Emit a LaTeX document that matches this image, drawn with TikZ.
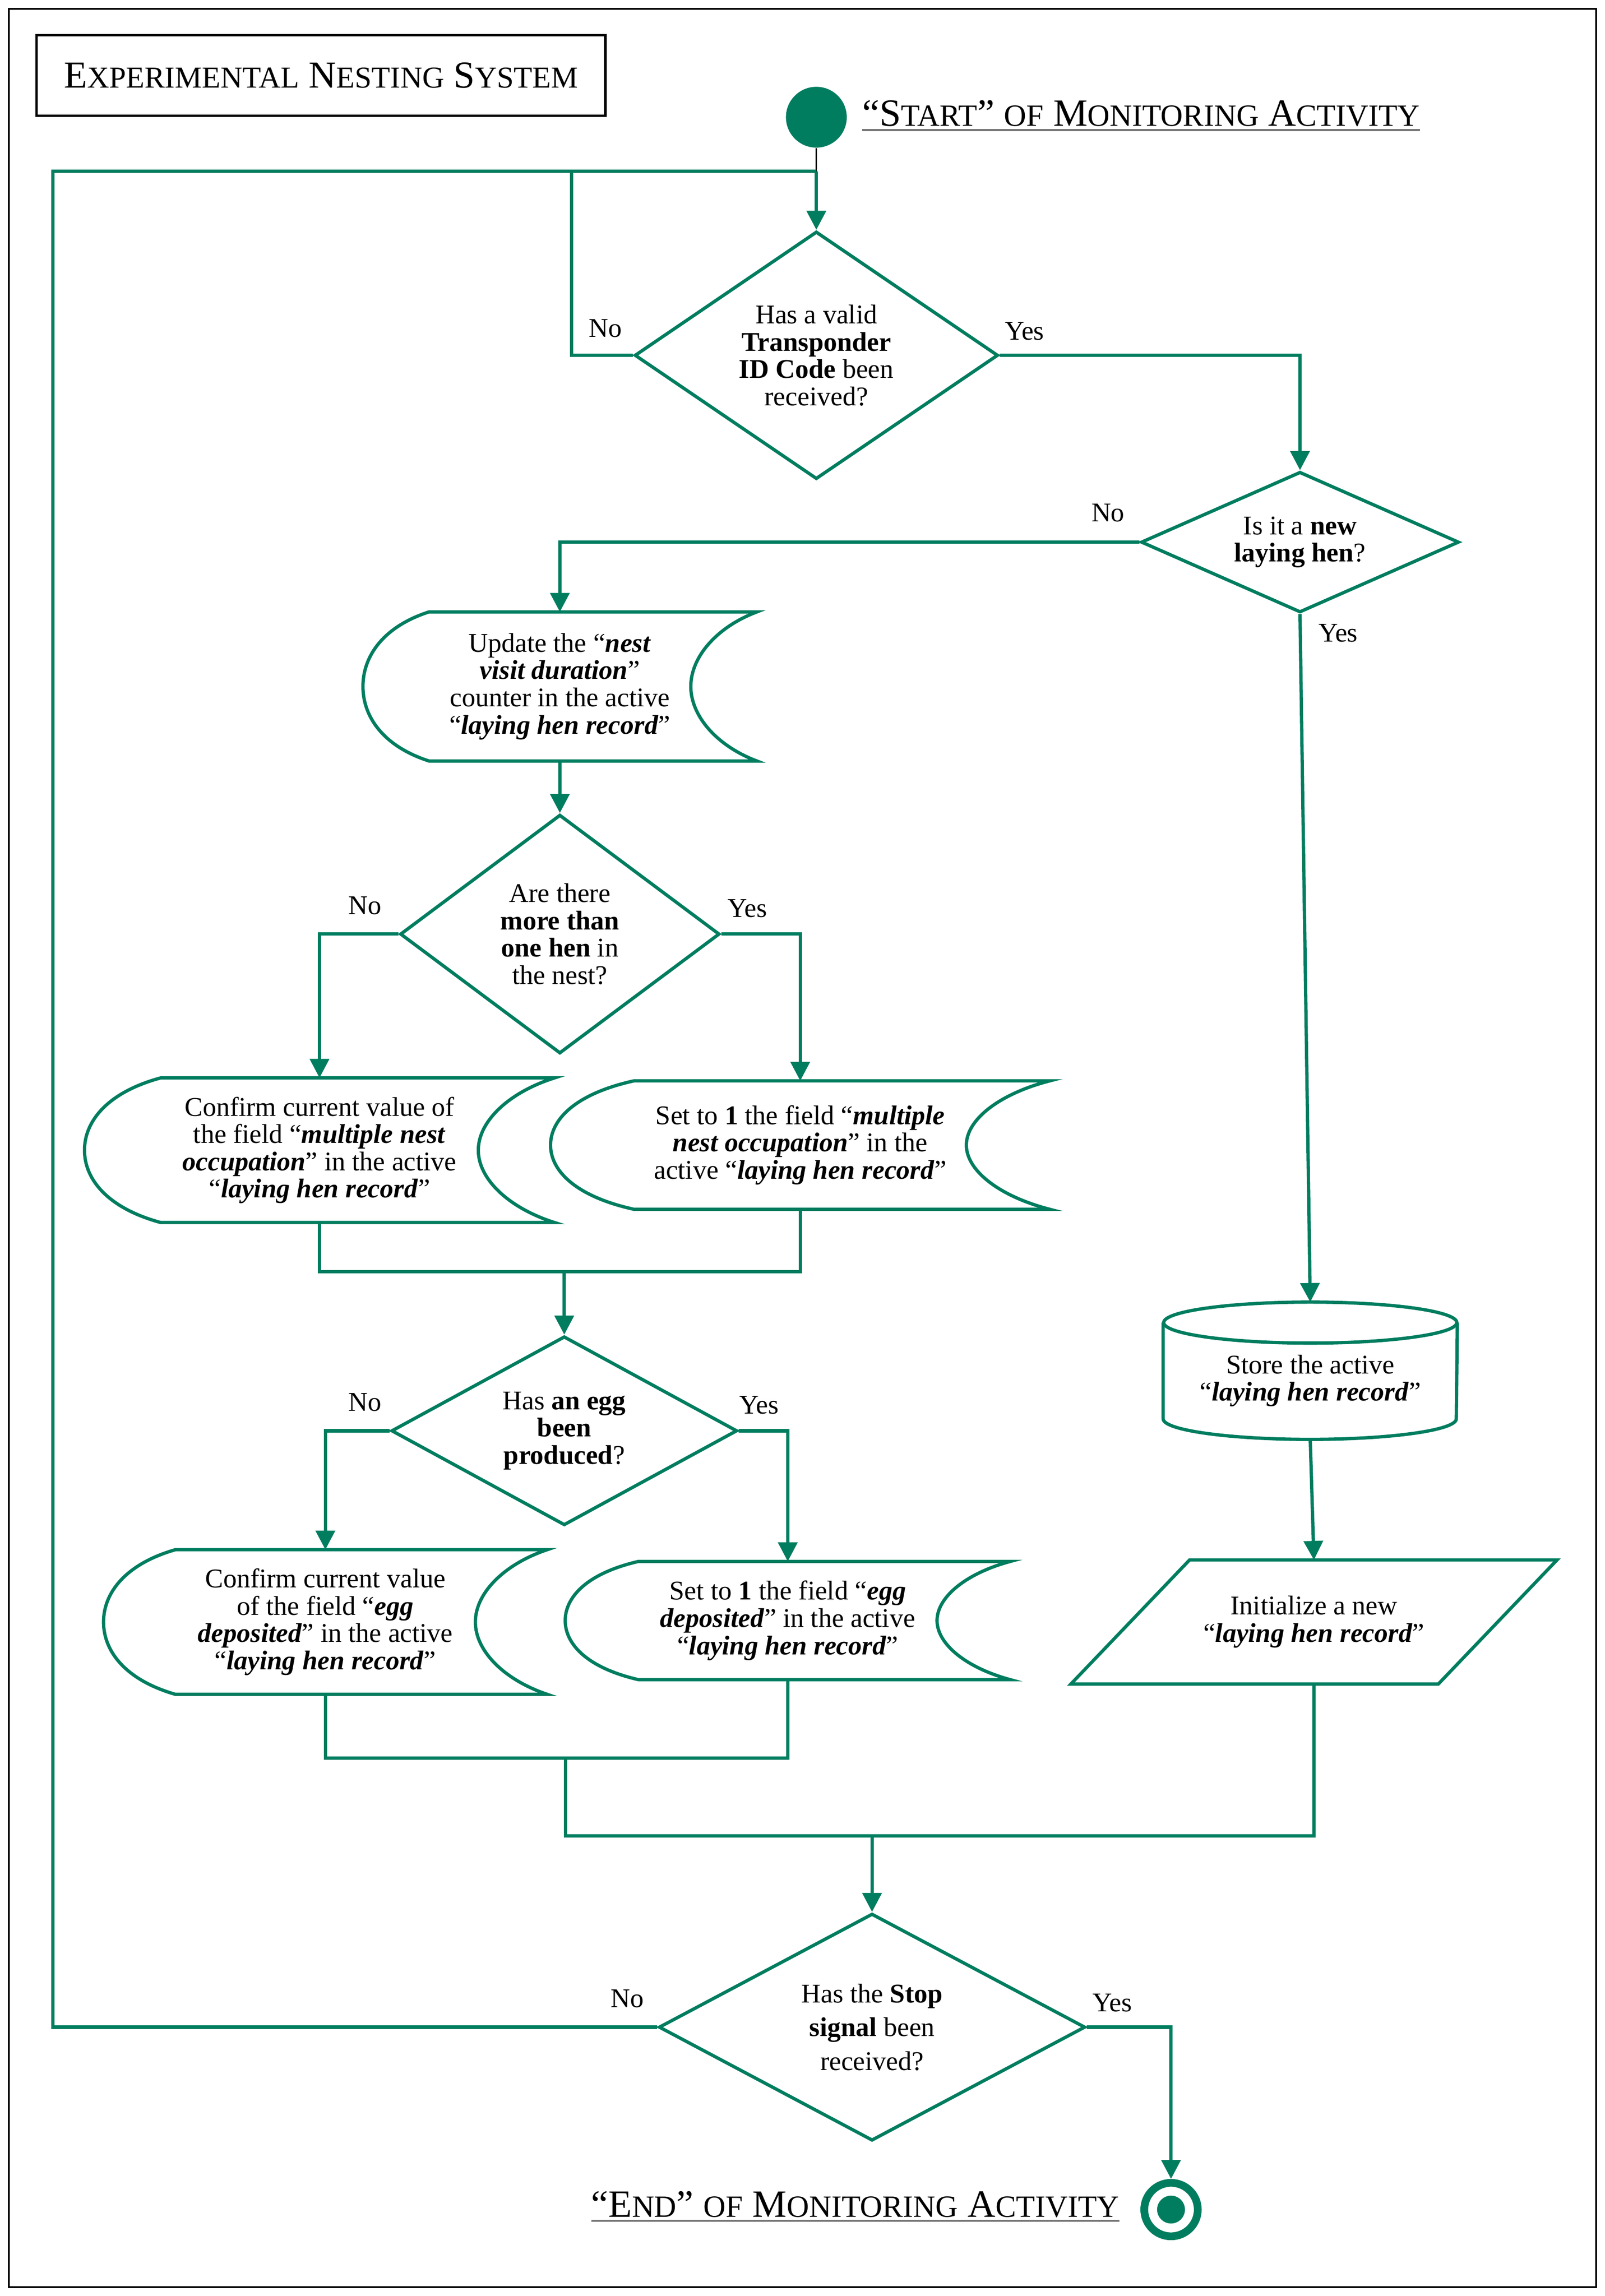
\documentclass[tikz,border=0pt]{standalone}
\usepackage{fontspec}
\setmainfont{Liberation Serif}
\usetikzlibrary{shapes.geometric,arrows.meta,calc}
\definecolor{nestgreen}{RGB}{0,125,95}

\newcommand{\bodyfont}{\fontsize{10.5}{10.6}\selectfont}
\newcommand{\bi}[1]{\textbf{\textit{#1}}}
\newcommand{\sccaps}[2][11.8]{{\fontsize{#1}{12}\selectfont #2}}

% stored data outline round an invisible text node
\newcommand{\datashape}[2]{%
  \draw[flowline] ($(#1.north west)+(#2,0)$) -- (#1.north east)
    .. controls ($(#1.north east)!0.1!(#1.south east)+(-0.6*#2,0)$) and ($(#1.north east)!0.3!(#1.south east)+(-#2,0)$) .. ($(#1.east)+(-#2,0)$)
    .. controls ($(#1.north east)!0.7!(#1.south east)+(-#2,0)$) and ($(#1.north east)!0.9!(#1.south east)+(-0.6*#2,0)$) .. (#1.south east)
    -- ($(#1.south west)+(#2,0)$)
    .. controls ($(#1.north west)!0.9!(#1.south west)+(0.3*#2,0)$) and ($(#1.north west)!0.7!(#1.south west)$) .. (#1.west)
    .. controls ($(#1.north west)!0.3!(#1.south west)$) and ($(#1.north west)!0.1!(#1.south west)+(0.3*#2,0)$) .. ($(#1.north west)+(#2,0)$) -- cycle;}
% database cylinder
\newcommand{\storeshape}[1]{%
  \draw[flowline] ($(#1.north west)+(0,14)$) -- ($(#1.south west)+(0,-14)$)
    arc[start angle=180,end angle=360,x radius=20mm,y radius=2.8mm] -- ($(#1.north east)+(0,14)$);
  \draw[flowline] ($(#1.north)+(0,14)$) ellipse[x radius=20mm,y radius=2.8mm];}

\tikzset{
  flowline/.style={draw=nestgreen,line width=0.45mm},
  flowarrow/.style={flowline,-{Triangle[length=2.6mm,width=2.6mm]}},
  decision/.style={diamond,draw=nestgreen,line width=0.45mm,inner sep=0pt,align=center,font=\bodyfont},
  datatext/.style={inner sep=0pt,align=center,font=\bodyfont},
  lbl/.style={inner sep=0pt,font=\bodyfont},
  titlebox/.style={draw=black,line width=1pt,minimum width=77.6mm,minimum height=11mm,inner sep=0pt,font=\fontsize{14.8}{16}\selectfont},
  headtext/.style={inner sep=0pt,font=\fontsize{15}{16}\selectfont},
  startdot/.style={circle,fill=nestgreen,minimum size=8.3mm,inner sep=0pt},
  endring/.style={circle,draw=nestgreen,line width=1.06mm,fill=white,minimum size=7.3mm,inner sep=0pt,
    path picture={\fill[nestgreen] (path picture bounding box.center) circle[radius=1.9mm];}}
}

\begin{document}
\begin{tikzpicture}[x=0.2mm,y=-0.2mm]
\useasboundingbox (0,0) rectangle (1095,1567);
\draw[line width=0.8pt] (6,6) rectangle (1089,1561);

\node[titlebox] (title) at (219,51.5) {E\sccaps{XPERIMENTAL} N\sccaps{ESTING} S\sccaps{YSTEM}};
\node[startdot] (start) at (557,80) {};
\node[headtext,anchor=base west] (startlbl) at (588,86) {\underline{“S\sccaps[12]{TART}” \sccaps[12]{OF} M\sccaps[12]{ONITORING} A\sccaps[12]{CTIVITY}}};
\coordinate (top) at (557,117);
\coordinate (loopleft) at (36,117);

% decisions and steps
\node[decision,minimum width=49.6mm,minimum height=33.8mm,shape aspect=1.47] (d1) at (557,242.5) {Has a valid\\\textbf{Transponder}\\\textbf{ID Code} been\\received?};
\node[decision,minimum width=43.4mm,minimum height=19.2mm,shape aspect=2.26] (d2) at (887,370) {Is it a \textbf{new}\\\textbf{laying hen}?};
\node[datatext,minimum width=53.6mm,minimum height=20.2mm] (p1) at (382,468.5) {Update the “\bi{nest}\\\bi{visit duration}”\\counter in the active\\“\bi{laying hen record}”};
\node[decision,minimum width=43.6mm,minimum height=32.6mm,shape aspect=1.34] (d3) at (382,637.5) {Are there\\\textbf{more than}\\\textbf{one hen} in\\the nest?};
\node[datatext,minimum width=64mm,minimum height=19.6mm] (p2) at (218,785) {Confirm current value of\\the field “\bi{multiple nest}\\\bi{occupation}” in the active\\“\bi{laying hen record}”};
\node[datatext,minimum width=68mm,minimum height=17.4mm] (p3) at (546,781.5) {Set to \textbf{1} the field “\bi{multiple}\\\bi{nest occupation}” in the\\active “\bi{laying hen record}”};
\coordinate (join1) at (385,868);
\node[decision,minimum width=47.2mm,minimum height=25.8mm,shape aspect=1.83] (d4) at (385,976.5) {Has \textbf{an egg}\\\textbf{been}\\\textbf{produced}?};
\node[datatext,minimum width=60.4mm,minimum height=19.6mm] (p4) at (222,1107) {Confirm current value\\of the field “\bi{egg}\\\bi{deposited}” in the active\\“\bi{laying hen record}”};
\node[datatext,minimum width=60.6mm,minimum height=16mm] (p5) at (537.5,1106) {Set to \textbf{1} the field “\bi{egg}\\\bi{deposited}” in the active\\“\bi{laying hen record}”};
\node[datatext,minimum width=40mm,minimum height=18.6mm] (store) at (894,935.5) {\rule{0pt}{5.3mm}Store the active\\“\bi{laying hen record}”};
\node[datatext,minimum width=66.2mm,minimum height=16.8mm] (init) at (896.5,1107) {Initialize a new\\“\bi{laying hen record}”};
\coordinate (join2) at (386,1200);
\coordinate (join3) at (595,1253);
\node[decision,font=\fontsize{10.5}{13.1}\selectfont,minimum width=58.2mm,minimum height=31mm,shape aspect=1.88] (d5) at (595,1383.5) {Has the \textbf{Stop}\\\textbf{signal} been\\received?};
\node[endring] (end) at (799,1508) {};
\node[headtext,anchor=base east] (endlbl) at (764,1513) {\underline{“E\sccaps[12]{ND}” \sccaps[12]{OF} M\sccaps[12]{ONITORING} A\sccaps[12]{CTIVITY}}};

% outlines
\datashape{p1}{45}
\datashape{p2}{52}
\datashape{p3}{57}
\datashape{p4}{49}
\datashape{p5}{50}
\storeshape{store}
\draw[flowline] (init.south west) -- ($(init.north west)+(81,0)$) -- (init.north east) -- ($(init.south east)+(-81,0)$) -- cycle;

% connectors
\draw[line width=0.5pt] (start) -- (top);
\draw[flowarrow] (top) -- (d1);
\draw[flowline] (d1.west) -- ++(-42,0) |- (top);
\draw[flowarrow] (d1.east) -| (d2.north);
\draw[flowarrow] (d2.west) -| (p1.north);
\draw[flowarrow] (d2.south) -- (store.north);
\draw[flowarrow] (p1) -- (d3);
\draw[flowarrow] (d3.west) -| (p2.north);
\draw[flowarrow] (d3.east) -| (p3.north);
\draw[flowline] (p2.south) |- (join1) -| (p3.south);
\draw[flowarrow] (join1) -- (d4);
\draw[flowarrow] (d4.west) -| (p4.north);
\draw[flowarrow] (d4.east) -| (p5.north);
\draw[flowline] (p4.south) |- (join2) -| (p5.south);
\draw[flowarrow] (store.south) -- (init.north);
\draw[flowline] (join2) |- (join3) -| (init.south);
\draw[flowarrow] (join3) -- (d5);
\draw[flowline] (d5.west) -| (loopleft) -- (top);
\draw[flowarrow] (d5.east) -| (end);

% branch labels
\node[lbl] (no1) at (413,224) {No};
\node[lbl] (yes1) at (699,226) {Yes};
\node[lbl] (no2) at (756,350) {No};
\node[lbl] (yes2) at (913,432) {Yes};
\node[lbl] (no3) at (249,618) {No};
\node[lbl] (yes3) at (510,620) {Yes};
\node[lbl] (no4) at (249,957) {No};
\node[lbl] (yes4) at (518,959) {Yes};
\node[lbl] (no5) at (428,1364) {No};
\node[lbl] (yes5) at (759,1367) {Yes};
\end{tikzpicture}
\end{document}
